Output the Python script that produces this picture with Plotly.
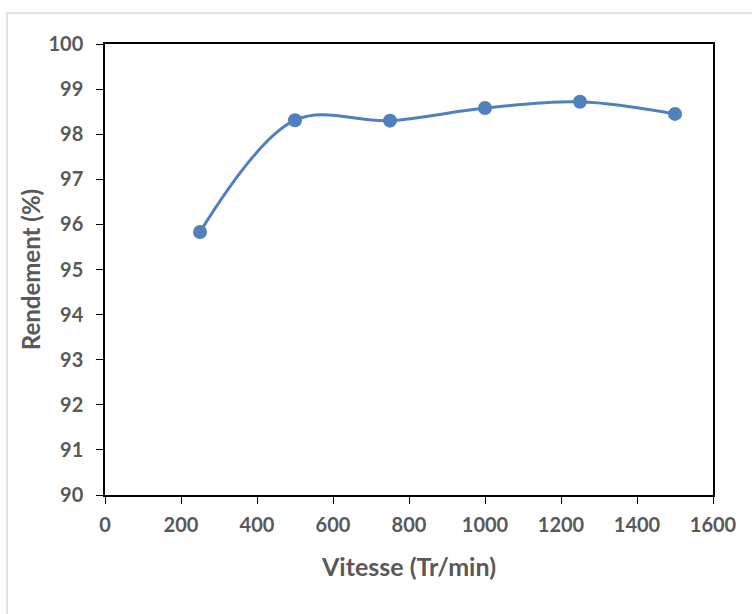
import plotly.graph_objects as go

# Rendement en fonction de la vitesse d'agitation
vitesse = [250, 500, 750, 1000, 1250, 1500]
rendement = [95.83, 98.31, 98.30, 98.58, 98.72, 98.45]

x_ticks = [0, 200, 400, 600, 800, 1000, 1200, 1400, 1600]
y_ticks = [90, 91, 92, 93, 94, 95, 96, 97, 98, 99, 100]

W, H = 752, 614
L, R, T, B = 105, 39, 44, 119
pw, ph = W - L - R, H - T - B

fig = go.Figure()
fig.add_trace(go.Scatter(
    x=vitesse, y=rendement,
    mode="lines+markers",
    line=dict(color="#4F81BD", width=3, shape="spline", smoothing=1.0),
    marker=dict(color="#4F81BD", size=14),
    showlegend=False,
    hoverinfo="x+y",
))

font_family = "Lato, 'Open Sans', sans-serif"
axis_common = dict(
    showline=True, linecolor="black", linewidth=1.5, mirror=True,
    ticks="outside", ticklen=7, tickcolor="black", tickwidth=1,
    showgrid=False, zeroline=False,
    tickfont=dict(family=font_family, size=20, color="#595959", weight=700),
)

fig.update_layout(
    width=W, height=H,
    margin=dict(l=L, r=R, t=T, b=B),
    paper_bgcolor="white", plot_bgcolor="white",
    xaxis=dict(
        range=[0, 1600], tickvals=x_ticks, ticklabelstandoff=4,
        title=dict(text="Vitesse (Tr/min)", standoff=24,
                   font=dict(family=font_family, size=25, color="#595959", weight=700)),
        **axis_common,
    ),
    yaxis=dict(
        range=[90, 100], tickvals=y_ticks, ticklabelstandoff=9,
        title=dict(text="Rendement (%)", standoff=1,
                   font=dict(family=font_family, size=24, color="#595959", weight=700)),
        **axis_common,
    ),
)

# Cadre extérieur gris clair
fig.add_shape(
    type="rect", xref="paper", yref="paper",
    x0=(7 - L) / pw, x1=(W + 20 - L) / pw,
    y0=(T + ph - (H + 20)) / ph, y1=(T + ph - 13) / ph,
    line=dict(color="#D9D9D9", width=1.5), fillcolor="rgba(0,0,0,0)",
    layer="below",
)

fig.write_html("out.html")
